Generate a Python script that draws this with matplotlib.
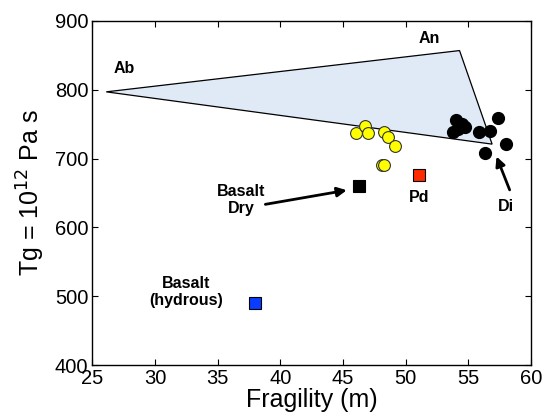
import numpy as np
import matplotlib
matplotlib.use("Agg")
import matplotlib.pyplot as plt

plt.rcParams['font.family'] = ['Liberation Sans', 'DejaVu Sans']

# triangle field (Ab - An - Di)
tri_x = [26.1, 54.3, 56.9]
tri_y = [797, 857, 721]

# yellow circles
yel_x = [46.0, 46.75, 46.96, 48.29, 48.61, 49.14, 48.08, 48.26]
yel_y = [737.6, 747, 737.6, 739, 731, 718.3, 690.7, 690.7]

# black circles
blk_x = [53.98, 54.46, 54.73, 53.8, 54.2, 55.87, 56.72, 57.39, 58.0, 56.33]
blk_y = [756, 750, 746, 738, 742.6, 739, 740.6, 758.6, 721, 708.6]

# squares: basalt dry, Pd, basalt hydrous
sq_x = [46.3, 51.08, 37.97]
sq_y = [660, 676, 490]
sq_c = ['black', '#ff2a00', '#0a3cff']

fig = plt.figure(figsize=(5.44, 4.17), dpi=100)
ax = fig.add_axes([0.170, 0.1247, 0.806, 0.825])

ax.fill(tri_x, tri_y, facecolor='#dfeaf6', edgecolor='black', lw=0.9, zorder=1)

ax.plot(yel_x, yel_y, 'o', ms=8.5, mfc='#ffff00', mec='#333333', mew=0.8, ls='none', zorder=3)
ax.plot(blk_x, blk_y, 'o', ms=8.5, mfc='black', mec='black', ls='none', zorder=3)
for x, y, c in zip(sq_x, sq_y, sq_c):
    ax.plot(x, y, 's', ms=9.3, mfc=c, mec='black', mew=0.8, zorder=3)

bold = dict(fontsize=11.5, fontweight='bold', ha='center', va='center')
ax.text(27.55, 831, 'Ab', **bold)
ax.text(51.9, 875, 'An', **bold)
ax.text(51.08, 644, 'Pd', **bold)
ax.text(58.0, 631, 'Di', **bold)
ax.text(36.9, 640, 'Basalt\nDry', linespacing=1.15, **bold)
ax.text(32.5, 506, 'Basalt\n(hydrous)', linespacing=1.15, **bold)

arw = dict(arrowstyle='-|>', lw=2, color='black', mutation_scale=14, shrinkA=0, shrinkB=0)
ax.annotate('', xy=(45.3, 654), xytext=(38.8, 633.5), arrowprops=arw)
ax.annotate('', xy=(57.25, 703), xytext=(58.3, 654.5), arrowprops=arw)

ax.set_xlim(25, 60)
ax.set_ylim(400, 900)
ax.set_xticks(np.arange(25, 61, 5))
ax.set_yticks(np.arange(400, 901, 100))
ax.tick_params(direction='in', top=True, right=True, labelsize=14.5, length=4, pad=3)
for s in ax.spines.values():
    s.set_linewidth(1.0)

ax.set_xlabel('Fragility (m)', fontsize=18, labelpad=0)
ax.set_ylabel('Tg = 10$^{12}$ Pa s', fontsize=18)
ax.yaxis.set_label_coords(-0.103, 0.5)

fig.savefig('out.png', dpi=100)
